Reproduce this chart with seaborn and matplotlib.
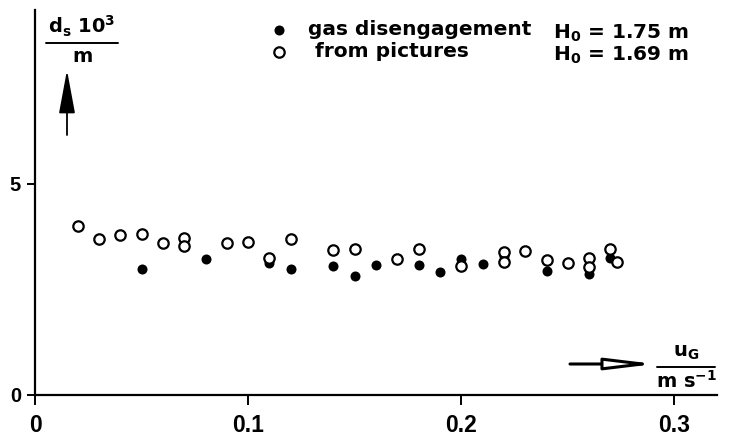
import matplotlib
matplotlib.use("Agg")
import matplotlib.pyplot as plt
import seaborn as sns
from matplotlib.lines import Line2D

# Bubble diameter d_s (in 10^-3 m) against superficial gas velocity u_G (m/s)
u_disengage = [0.05, 0.08, 0.11, 0.12, 0.14, 0.15, 0.16, 0.18, 0.19, 0.20,
               0.21, 0.22, 0.24, 0.26, 0.27]
d_disengage = [2.97, 3.21, 3.13, 2.97, 3.06, 2.81, 3.08, 3.08, 2.90, 3.22,
               3.11, 3.29, 2.93, 2.87, 3.23]

u_pictures = [0.02, 0.03, 0.04, 0.05, 0.06, 0.07, 0.07, 0.09, 0.10, 0.11,
              0.12, 0.14, 0.15, 0.17, 0.18, 0.20, 0.22, 0.22, 0.23, 0.24,
              0.25, 0.26, 0.26, 0.27, 0.273]
d_pictures = [3.99, 3.68, 3.79, 3.80, 3.60, 3.72, 3.52, 3.60, 3.63, 3.23,
              3.69, 3.42, 3.46, 3.21, 3.45, 3.05, 3.39, 3.15, 3.40, 3.20,
              3.12, 3.25, 3.03, 3.45, 3.15]

x_ticks = [0, 0.1, 0.2, 0.3]
x_ticklabels = ["0", "0.1", "0.2", "0.3"]
y_ticks = [0, 5]
y_ticklabels = ["0", "5"]

series_labels = ["gas disengagement", " from pictures"]
height_labels = [r"$\mathbf{H_0}$ = 1.75 m", r"$\mathbf{H_0}$ = 1.69 m"]

sns.set_style("ticks")
plt.rcParams["font.family"] = ["DejaVu Sans"]
plt.rcParams["font.weight"] = "bold"
plt.rcParams["mathtext.fontset"] = "dejavusans"
plt.rcParams["text.color"] = "black"
plt.rcParams["axes.labelcolor"] = "black"
plt.rcParams["xtick.color"] = "black"
plt.rcParams["ytick.color"] = "black"

W, H = 729, 441
fig = plt.figure(figsize=(W / 100, H / 100), dpi=100)
ax = fig.add_axes([35 / W, 46 / H, 682 / W, 385 / H])

sns.scatterplot(x=u_disengage, y=d_disengage, ax=ax, color="black",
                edgecolor="black", linewidth=0, s=52, zorder=3)
sns.scatterplot(x=u_pictures, y=d_pictures, ax=ax, color="white",
                edgecolor="black", linewidth=1.6, s=56, zorder=4)

ax.set_xlim(0, 0.32)
ax.set_ylim(0, 9.11)
ax.set_xticks(x_ticks)
ax.set_xticklabels(x_ticklabels)
ax.set_yticks(y_ticks)
ax.set_yticklabels(y_ticklabels)

sns.despine(ax=ax)
for side in ("left", "bottom"):
    ax.spines[side].set_linewidth(1.6)
    ax.spines[side].set_color("black")

ax.tick_params(axis="x", direction="out", length=7, width=1.4, pad=7,
               colors="black", labelcolor="black")
ax.tick_params(axis="y", direction="out", length=6, width=1.4, pad=4,
               colors="black", labelcolor="black")
for lab in ax.get_xticklabels():
    lab.set_fontfamily("Liberation Sans")
    lab.set_fontweight("bold")
    lab.set_fontsize(16.5)
for lab in ax.get_yticklabels():
    lab.set_fontfamily("Liberation Sans")
    lab.set_fontweight("bold")
    lab.set_fontsize(14.5)

# Legend with the two measurement methods
handles = [ax.collections[0], ax.collections[1]]
leg = ax.legend(handles, series_labels, loc="upper left",
                bbox_to_anchor=(269 / W, 1 - 20 / H),
                bbox_transform=fig.transFigure,
                frameon=False, labelspacing=0.17, handlelength=1.0,
                handletextpad=0.95, borderpad=0, borderaxespad=0,
                prop={"weight": "bold", "size": 14.5})
for t in leg.get_texts():
    t.set_color("black")
for txt, yy in zip(height_labels, (33, 55)):
    fig.text(553 / W, 1 - yy / H, txt, fontsize=14.5, fontweight="bold",
             ha="left", va="center", color="black")

# y-axis quantity written as a fraction with an upward arrow
fig.text(82 / W, 1 - 26 / H, r"$\mathbf{d_s\ 10^3}$", fontsize=14,
         ha="center", va="center", color="black")
fig.add_artist(Line2D([46 / W, 118 / W], [1 - 43 / H, 1 - 43 / H],
                      transform=fig.transFigure, color="black", lw=1.4))
fig.text(82 / W, 1 - 57 / H, "m", fontsize=14, fontweight="bold",
         ha="center", va="center", color="black")
ax.annotate("", xy=(67, H - 70), xytext=(67, H - 135),
            xycoords="figure pixels", textcoords="figure pixels",
            arrowprops=dict(arrowstyle="-|>,head_length=2.7,head_width=0.5",
                            mutation_scale=10, lw=1.3, color="black",
                            shrinkA=0, shrinkB=0))

# x-axis quantity written as a fraction with a rightward arrow
fig.text(686 / W, 1 - 352 / H, r"$\mathbf{u_G}$", fontsize=14,
         ha="center", va="center", color="black")
fig.add_artist(Line2D([657 / W, 715 / W], [1 - 367 / H, 1 - 367 / H],
                      transform=fig.transFigure, color="black", lw=1.4))
fig.text(686 / W, 1 - 381 / H, r"$\mathbf{m\ s^{-1}}$", fontsize=14,
         ha="center", va="center", color="black")
ax.annotate("", xy=(655, H - 364), xytext=(570, H - 364),
            xycoords="figure pixels", textcoords="figure pixels",
            arrowprops=dict(arrowstyle="-|>,head_length=2.9,head_width=0.35",
                            mutation_scale=10, lw=2.2, fc="white",
                            ec="black", shrinkA=0, shrinkB=0))

fig.savefig("out.png", dpi=100)
